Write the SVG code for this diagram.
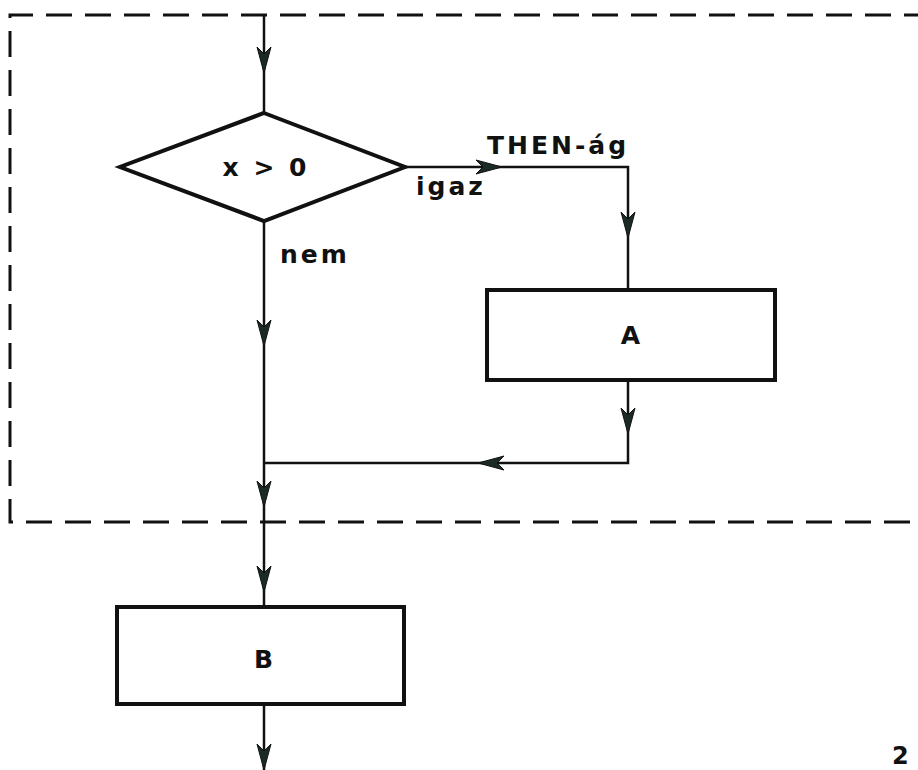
<svg xmlns="http://www.w3.org/2000/svg" xmlns:xlink="http://www.w3.org/1999/xlink" width="918" height="770" viewBox="0 0 918 770">
<style>
.frame{fill:none;stroke:#111;stroke-width:3;stroke-dasharray:26 13}
.shape{fill:none;stroke:#111;stroke-width:4;stroke-linejoin:miter}
.line{fill:none;stroke:#111;stroke-width:2.5}
.ah{fill:#1a2a24;stroke:#111;stroke-width:1}
.t{font-family:"DejaVu Sans","Liberation Sans",sans-serif;font-weight:bold;font-size:25px;fill:#111;letter-spacing:3px}
.pn{font-family:"DejaVu Sans","Liberation Sans",sans-serif;font-weight:bold;font-size:24px;fill:#111}
</style>
<defs>
<path id="ah" d="M0,0 L-26,-7 L-19,0 L-26,7 Z"/>
</defs>
<rect width="918" height="770" fill="#fff"/>
<g id="frame">
<path class="frame" d="M930,15 L10,15 L10,522 L930,522"/>
</g>
<g id="connectors">
<path class="line" d="M264,15 L264,113"/>
<path class="line" d="M405,167 L628,167 L628,290"/>
<path class="line" d="M264,221 L264,607"/>
<path class="line" d="M628,380 L628,463 L264,463"/>
<path class="line" d="M264,705 L264,770"/>
<use href="#ah" class="ah" transform="translate(264,73) rotate(90)"/>
<use href="#ah" class="ah" transform="translate(502,167)"/>
<use href="#ah" class="ah" transform="translate(628,238) rotate(90)"/>
<use href="#ah" class="ah" transform="translate(264,346) rotate(90)"/>
<use href="#ah" class="ah" transform="translate(628,434) rotate(90)"/>
<use href="#ah" class="ah" transform="translate(478,463) rotate(180)"/>
<use href="#ah" class="ah" transform="translate(264,507) rotate(90)"/>
<use href="#ah" class="ah" transform="translate(264,592) rotate(90)"/>
<use href="#ah" class="ah" transform="translate(264,770) rotate(90)"/>
</g>
<g id="decision">
<polygon class="shape" points="264,113 405,167 264,221 120,167"/>
<text class="t" x="266" y="176" text-anchor="middle">x &gt; 0</text>
</g>
<g id="labels">
<text class="t" x="280" y="263">nem</text>
<text class="t" x="416" y="195">igaz</text>
<text class="t" x="487" y="154">THEN-ág</text>
</g>
<g id="boxA">
<rect class="shape" x="487" y="290" width="288" height="90"/>
<text class="t" x="632" y="344" text-anchor="middle">A</text>
</g>
<g id="boxB">
<rect class="shape" x="117" y="607" width="287" height="97"/>
<text class="t" x="265" y="668" text-anchor="middle">B</text>
</g>
<g id="pagenum">
<text class="pn" x="892" y="764">2</text>
</g>
</svg>
